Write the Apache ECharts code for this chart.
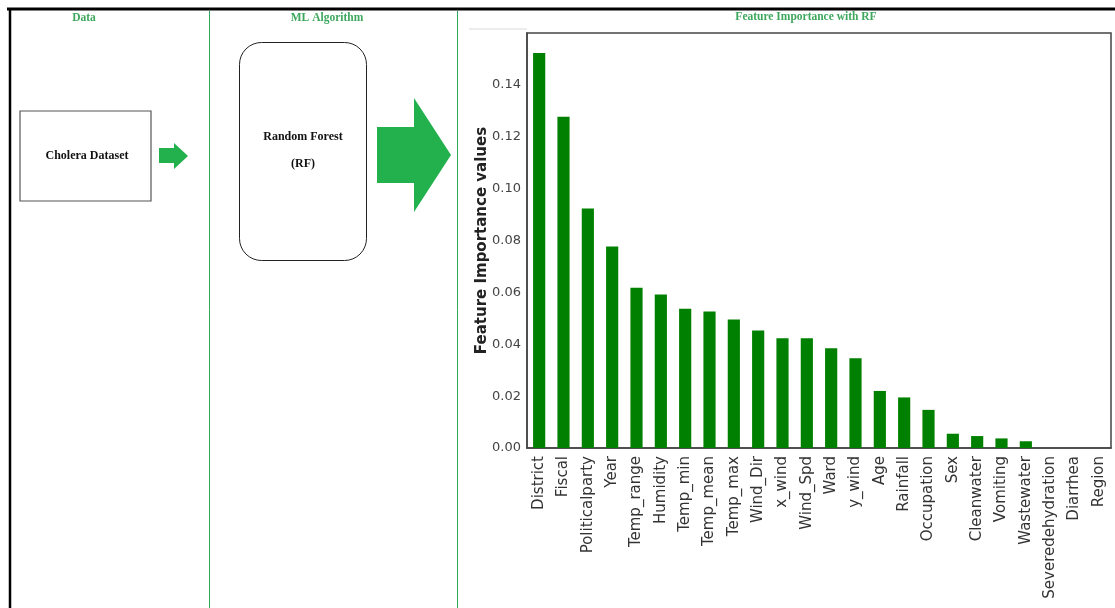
<!DOCTYPE html>
<html>
<head>
<meta charset="utf-8">
<script src="https://cdn.jsdelivr.net/npm/echarts@6/dist/echarts.min.js"></script>
<style>
html,body{margin:0;padding:0;background:#fff;}
#c{width:1115px;height:608px;}
</style>
</head>
<body>
<div id="c"></div>
<script>
const categories = ['District','Fiscal','Politicalparty','Year','Temp_range','Humidity','Temp_min','Temp_mean','Temp_max','Wind_Dir','x_wind','Wind_Spd','Ward','y_wind','Age','Rainfall','Occupation','Sex','Cleanwater','Vomiting','Wastewater','Severedehydration','Diarrhea','Region'];
const importance = [0.1523,0.1277,0.0923,0.0777,0.0618,0.0592,0.0537,0.0526,0.0495,0.0453,0.0423,0.0423,0.0385,0.0346,0.0220,0.0195,0.0147,0.0055,0.0046,0.0037,0.0026,0,0,0];
const panelTitles = ['Data','ML Algorithm','Feature Importance with RF'];
const boxTexts = ['Cholera Dataset','Random Forest','(RF)'];
const yTitle = 'Feature Importance values';

const green = '#008000';
const lineGreen = '#2fa85a';
const titleGreen = '#3ea75e';
const arrowGreen = '#22b14c';
const serif = '"Liberation Serif","DejaVu Serif",serif';
const sans = '"DejaVu Sans",sans-serif';

const chart = echarts.init(document.getElementById('c'));
chart.setOption({
  backgroundColor: '#fff',
  animation: false,
  grid: {left: 527, top: 33, right: 4, bottom: 160, show: true, borderColor: '#444', borderWidth: 1.5, containLabel: false},
  xAxis: {
    type: 'category',
    data: categories,
    boundaryGap: true,
    axisLine: {show: true, lineStyle: {color: '#444', width: 1.5}},
    axisTick: {show: false},
    axisLabel: {rotate: 90, fontSize: 15, fontFamily: sans, color: '#333', margin: 8, interval: 0}
  },
  yAxis: {
    type: 'value',
    min: 0, max: 0.16, interval: 0.02,
    name: yTitle,
    nameLocation: 'middle',
    nameRotate: 90,
    nameGap: 37,
    nameMoveOverlap: false,
    nameTextStyle: {fontSize: 15, fontWeight: 'bold', fontFamily: sans, color: '#222'},
    axisLine: {show: true, lineStyle: {color: '#444', width: 1.5}},
    axisTick: {show: false},
    splitLine: {show: false},
    axisLabel: {fontSize: 13, fontFamily: sans, color: '#444', margin: 6, showMaxLabel: false,
      formatter: v => v.toFixed(2)}
  },
  series: [{
    type: 'bar',
    data: importance,
    barWidth: '50%',
    itemStyle: {color: green},
    silent: true
  }],
  graphic: [
    // frame lines
    {type: 'line', shape: {x1: 7, y1: 9, x2: 1115, y2: 9}, style: {stroke: '#000', lineWidth: 3}},
    {type: 'line', shape: {x1: 10, y1: 8, x2: 10, y2: 608}, style: {stroke: '#000', lineWidth: 2.5}},
    {type: 'line', shape: {x1: 209.5, y1: 11, x2: 209.5, y2: 608}, style: {stroke: lineGreen, lineWidth: 1}},
    {type: 'line', shape: {x1: 457.5, y1: 11, x2: 457.5, y2: 608}, style: {stroke: lineGreen, lineWidth: 1}},
    {type: 'line', shape: {x1: 469, y1: 29, x2: 527, y2: 29}, style: {stroke: '#ececec', lineWidth: 2}},
    // panel titles
    {type: 'text', x: 84, y: 18, style: {text: panelTitles[0], font: 'bold 11.5px ' + serif, fill: titleGreen, align: 'center', verticalAlign: 'middle'}},
    {type: 'text', x: 327, y: 18, style: {text: panelTitles[1], font: 'bold 11.5px ' + serif, fill: titleGreen, align: 'center', verticalAlign: 'middle'}},
    {type: 'text', x: 806, y: 17, style: {text: panelTitles[2], font: 'bold 11.5px ' + serif, fill: titleGreen, align: 'center', verticalAlign: 'middle'}},
    // dataset box
    {type: 'rect', shape: {x: 20, y: 111, width: 131, height: 90}, style: {fill: '#fff', stroke: '#555', lineWidth: 1.2}},
    {type: 'text', x: 87, y: 156, style: {text: boxTexts[0], font: 'bold 12px ' + serif, fill: '#111', align: 'center', verticalAlign: 'middle'}},
    // small arrow
    {type: 'polygon', shape: {points: [[159,148],[174,148],[174,143],[188,156],[174,169],[174,163],[159,163]]}, style: {fill: arrowGreen}},
    // RF rounded box
    {type: 'rect', shape: {x: 239.5, y: 42.5, width: 127, height: 218, r: 22}, style: {fill: '#fff', stroke: '#222', lineWidth: 1}},
    {type: 'text', x: 303, y: 137, style: {text: boxTexts[1], font: 'bold 12px ' + serif, fill: '#111', align: 'center', verticalAlign: 'middle'}},
    {type: 'text', x: 303, y: 164, style: {text: boxTexts[2], font: 'bold 12px ' + serif, fill: '#111', align: 'center', verticalAlign: 'middle'}},
    // big arrow
    {type: 'polygon', shape: {points: [[377,127],[414,127],[414,98],[451,155],[414,212],[414,183],[377,183]]}, style: {fill: arrowGreen}}
  ]
});
</script>
</body>
</html>
